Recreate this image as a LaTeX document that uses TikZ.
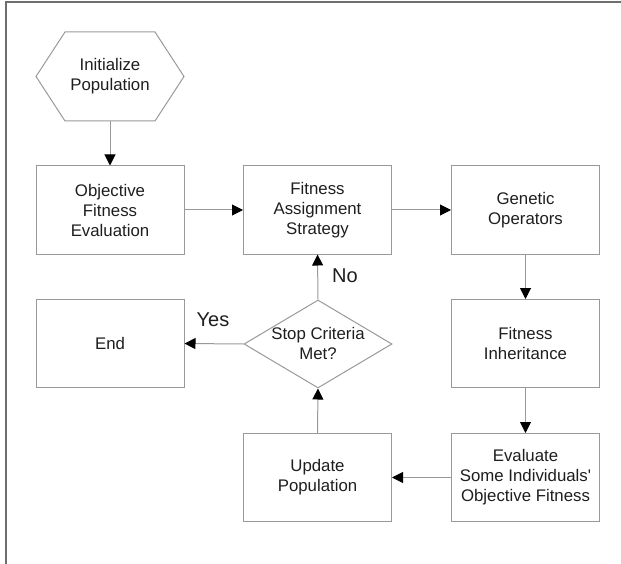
\documentclass[tikz,border=0pt]{standalone}
\usepackage{fontspec}
\setmainfont{Liberation Sans}
\usetikzlibrary{arrows.meta,shapes.geometric}
\definecolor{linegray}{HTML}{999999}
\definecolor{framegray}{HTML}{6E6E6E}
\definecolor{txt}{HTML}{1E1E1E}
\begin{document}
\begin{tikzpicture}[x=1pt,y=-1pt,
  box/.style={draw=linegray, line width=1pt, minimum width=148pt, minimum height=88pt, inner sep=0pt, align=center, font=\fontsize{16.8}{20}\selectfont, text=txt},
  plain/.style={inner sep=0pt, align=center, font=\fontsize{16.8}{20}\selectfont, text=txt},
  conn/.style={draw=linegray, line width=1pt, -{Triangle[length=11pt,width=11pt,color=black]}},
  lab/.style={font=\fontsize{20}{24}\selectfont, text=txt, inner sep=0pt}
]
\useasboundingbox (0,0) rectangle (621,564);
% frame
\draw[line width=1.5pt, draw=framegray] (6,564) -- (6,2) -- (621,2);
% hexagon start
\draw[draw=linegray, line width=1pt] (36,76.5) -- (65,32) -- (155,32) -- (184,76.5) -- (155,121) -- (65,121) -- cycle;
\node[plain, minimum width=148pt, minimum height=89pt] (init) at (110,76.5) {Initialize\\Population};
% boxes
\node[box] (obj) at (110,210) {Objective\\Fitness\\Evaluation};
\node[box] (fas) at (317.5,210) {Fitness\\Assignment\\Strategy};
\node[box] (gen) at (525.5,210) {Genetic\\Operators};
\node[box] (inh) at (525.5,343.5) {Fitness\\Inheritance};
\node[box] (eval) at (525.5,477.5) {Evaluate\\Some Individuals\textquotesingle\\Objective Fitness};
\node[box] (upd) at (317.5,477.5) {Update\\Population};
\node[box] (end) at (110,343.5) {End};
\node[diamond, draw=linegray, line width=1pt, minimum width=148pt, minimum height=88pt, inner sep=0pt] (dec) at (318,344) {};
\node[plain] (dect) at (318,343) {Stop Criteria\\Met?};
% connectors
\draw[conn] (init.south) -- (obj.north);
\draw[conn] (obj.east) -- (fas.west);
\draw[conn] (fas.east) -- (gen.west);
\draw[conn] (gen.south) -- (inh.north);
\draw[conn] (inh.south) -- (eval.north);
\draw[conn] (eval.west) -- (upd.east);
\draw[conn] (upd.north) -- (dec.south);
\draw[conn] (dec.north) -- (fas.south);
\draw[conn] (dec.west) -- (end.east);
% labels
\node[lab] (yes) at (213,320) {Yes};
\node[lab] (no) at (345,276) {No};
\end{tikzpicture}
\end{document}
